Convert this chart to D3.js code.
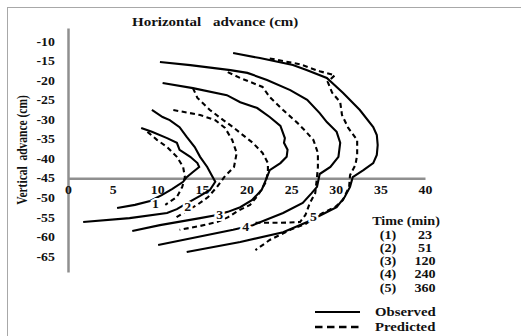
<!DOCTYPE html>
<html><head><meta charset="utf-8">
<script src="https://cdn.jsdelivr.net/npm/d3@7"></script>
<style>
body{margin:0;background:#fff;}
svg{display:block;font-family:"Liberation Serif","Times New Roman",serif;font-weight:bold;}
</style></head><body>
<svg id="c" width="521" height="336"></svg>
<script>
// ---- data (cm) ----
const xTicks=[0,5,10,15,20,25,30,35,40];
const yTicks=[-10,-15,-20,-25,-30,-35,-40,-45,-50,-55,-60,-65];
const curveIds=[1,2,3,4,5];
const timeMin=[23,51,120,240,360];

const obs1=[[8.2,-32.1],[9.4,-33.1],[11.1,-34.7],[12.2,-35.9],[12.5,-37.7],[13.7,-39.5],[14.5,-41.1],[14.7,-42.1],[14.0,-43.4],[13.3,-44.7],[12.9,-45.9],[11.7,-47.7],[10.5,-49.3],[9.2,-50.8],[7.5,-51.8],[5.5,-52.6]];
const pred1=[[8.9,-33.1],[10.0,-35.2],[11.1,-37.0],[12.2,-39.5],[12.9,-42.1],[13.1,-44.7],[12.8,-47.2],[12.2,-49.8],[10.9,-51.8]];
const obs2=[[9.4,-27.5],[10.6,-29.3],[11.4,-30.1],[12.5,-31.9],[13.3,-34.4],[14.2,-37.0],[14.8,-39.5],[15.6,-42.1],[16.1,-44.2],[16.5,-45.9],[15.9,-48.0],[14.8,-49.5],[13.4,-51.3],[12.2,-52.9],[11.1,-53.9],[6.9,-55.2],[1.7,-56.2]];
const pred2=[[11.8,-27.5],[14.8,-28.8],[16.5,-30.1],[17.6,-32.1],[18.4,-35.2],[18.9,-38.5],[18.6,-42.1],[17.5,-44.7],[16.7,-47.2],[15.7,-49.8],[14.6,-51.6],[13.1,-53.6],[12.0,-55.2]];
const obs3=[[10.6,-20.6],[14.0,-21.9],[17.8,-23.7],[19.3,-25.5],[21.2,-27.0],[22.6,-29.3],[23.8,-31.6],[24.3,-34.7],[24.2,-35.9],[24.6,-37.7],[24.5,-39.5],[23.8,-41.1],[22.6,-42.9],[22.3,-44.7],[21.7,-48.0],[20.6,-50.6],[19.3,-52.4],[17.9,-53.6],[16.7,-54.4],[14.8,-55.2],[10.3,-57.0],[7.2,-58.5]];
const pred3=[[14.0,-21.9],[14.5,-24.4],[15.9,-27.5],[17.4,-30.1],[18.5,-31.9],[19.3,-33.4],[20.7,-35.9],[21.8,-38.5],[22.4,-41.1],[22.4,-43.6],[22.1,-46.2],[21.3,-49.3],[20.4,-51.8],[19.0,-53.4],[17.9,-55.0],[16.7,-56.2],[14.8,-57.2],[12.5,-58.2]];
const obs4=[[10.3,-15.2],[13.7,-16.0],[18.2,-17.3],[20.1,-18.0],[22.3,-19.8],[24.9,-22.4],[26.8,-24.9],[28.2,-28.3],[29.0,-30.6],[30.1,-33.1],[30.5,-35.9],[30.3,-39.5],[29.4,-42.1],[28.2,-43.9],[27.9,-47.2],[27.3,-48.8],[26.3,-51.3],[24.1,-53.9],[20.7,-57.0],[18.5,-58.2],[10.1,-62.1]];
const pred4=[[17.9,-17.8],[19.3,-19.3],[20.4,-20.3],[21.8,-21.6],[22.6,-24.2],[24.1,-27.5],[25.7,-30.8],[26.6,-32.9],[27.5,-35.2],[28.0,-38.5],[28.0,-42.1],[27.9,-44.7],[27.7,-48.8],[27.1,-51.3],[26.6,-54.4],[26.0,-56.2],[23.8,-56.4],[21.0,-56.4]];
const obs5=[[18.5,-12.9],[21.5,-14.2],[25.2,-16.0],[26.8,-17.3],[29.0,-19.3],[30.8,-23.1],[32.7,-27.5],[34.2,-31.9],[34.6,-33.9],[34.7,-36.5],[34.6,-39.0],[34.2,-41.1],[33.1,-42.9],[31.9,-44.7],[31.6,-47.2],[31.0,-49.8],[30.1,-52.4],[28.8,-53.9],[26.8,-56.2],[24.1,-58.8],[19.3,-61.3],[13.3,-63.9]];
const pred5=[[22.6,-14.3],[26.0,-15.8],[28.2,-17.6],[29.9,-18.6],[29.1,-20.3],[29.6,-23.1],[30.5,-25.5],[30.7,-28.8],[31.4,-32.1],[32.4,-35.2],[32.4,-39.0],[32.2,-41.6],[31.6,-44.2],[31.5,-47.2],[30.8,-50.6],[29.9,-52.4],[28.5,-53.9],[26.6,-56.7],[24.9,-58.2],[22.6,-60.8],[21.0,-63.4]];
const labelAt=[[9.8,-51.6],[13.4,-52.4],[17.0,-54.4],[19.9,-57.5],[27.5,-54.9]];

// ---- drawing ----
const svg=d3.select("#c");
const x=d3.scaleLinear([0,40],[68,425]);
const y=d3.scaleLinear([-6.5,-69],[28,272]);
const SX=1.2; // horizontal stretch of the original lettering
const ink="#111";

// frame
svg.append("line").attr("x1",7).attr("y1",7.5).attr("x2",521).attr("y2",7.5).attr("stroke","#a8a8a8").attr("stroke-width",1);
svg.append("line").attr("x1",7.5).attr("y1",7).attr("x2",7.5).attr("y2",336).attr("stroke","#a8a8a8").attr("stroke-width",1);

const axisCol="#8f8f8f";
const yAx=svg.append("g").attr("transform",`translate(${x(0)},0)`)
  .call(d3.axisLeft(y).tickValues(yTicks).tickSize(0).tickSizeOuter(0).tickPadding(11).tickFormat(d=>String(d)));
const xAx=svg.append("g").attr("transform",`translate(0,${y(-45)})`)
  .call(d3.axisBottom(x).tickValues(xTicks).tickSize(0).tickSizeOuter(0).tickPadding(8).tickFormat(d=>String(d)));
[yAx,xAx].forEach(g=>{
  g.select(".domain").attr("stroke",axisCol).attr("stroke-width",2.5);
  g.selectAll("text").attr("font-family","Liberation Serif").attr("font-weight","bold")
   .attr("font-size",11.5).attr("fill",ink).attr("transform",`scale(${SX},1)`);
});

const line=d3.line().x(d=>x(d[0])).y(d=>y(d[1]));
const obs=[obs1,obs2,obs3,obs4,obs5];
const pred=[pred1,pred2,pred3,pred4,pred5];
const plot=svg.append("g");
pred.forEach(p=>plot.append("path").attr("d",line(p)).attr("fill","none").attr("stroke","#000").attr("stroke-width",2.1).attr("stroke-dasharray","5,3.5"));
obs.forEach(p=>plot.append("path").attr("d",line(p)).attr("fill","none").attr("stroke","#000").attr("stroke-width",2.1));

// helper for stretched text
function stext(parent,tx,ty,str,size,anchor){
  return parent.append("text").attr("transform",`translate(${tx},${ty}) scale(${SX},1)`)
    .attr("text-anchor",anchor||"start").attr("font-size",size).attr("fill",ink).text(str);
}

// curve numbers
curveIds.forEach((d,i)=>{
  stext(plot,x(labelAt[i][0]),y(labelAt[i][1])+4,d,11.5,"middle")
    .attr("stroke","#fff").attr("stroke-width",4).attr("paint-order","stroke");
});

// titles
stext(svg,132,26,"Horizontal",12.5);
stext(svg,213,26,"advance (cm)",12.5);
svg.append("text").attr("transform",`translate(27,150) rotate(-90) scale(1,${SX})`).attr("text-anchor","middle")
  .attr("font-size",11.5).attr("fill",ink).style("white-space","pre").text("Vertical  advance (cm)");

// legend: times
const lg=svg.append("g");
stext(lg,406,225,"Time (min)",11.8,"middle");
curveIds.forEach((d,i)=>stext(lg,388,238.5+i*13.3,`(${d})`,11.8,"middle"));
timeMin.forEach((d,i)=>stext(lg,425,238.5+i*13.3,d,11.8,"middle"));
// legend: line styles
lg.append("line").attr("x1",315).attr("x2",360).attr("y1",312).attr("y2",312).attr("stroke","#000").attr("stroke-width",2);
lg.append("line").attr("x1",315).attr("x2",360).attr("y1",327).attr("y2",327).attr("stroke","#000").attr("stroke-width",2.5).attr("stroke-dasharray","7.5,4.5");
stext(lg,375,316,"Observed",12.3);
stext(lg,375,331,"Predicted",12.3);
</script>
</body></html>
